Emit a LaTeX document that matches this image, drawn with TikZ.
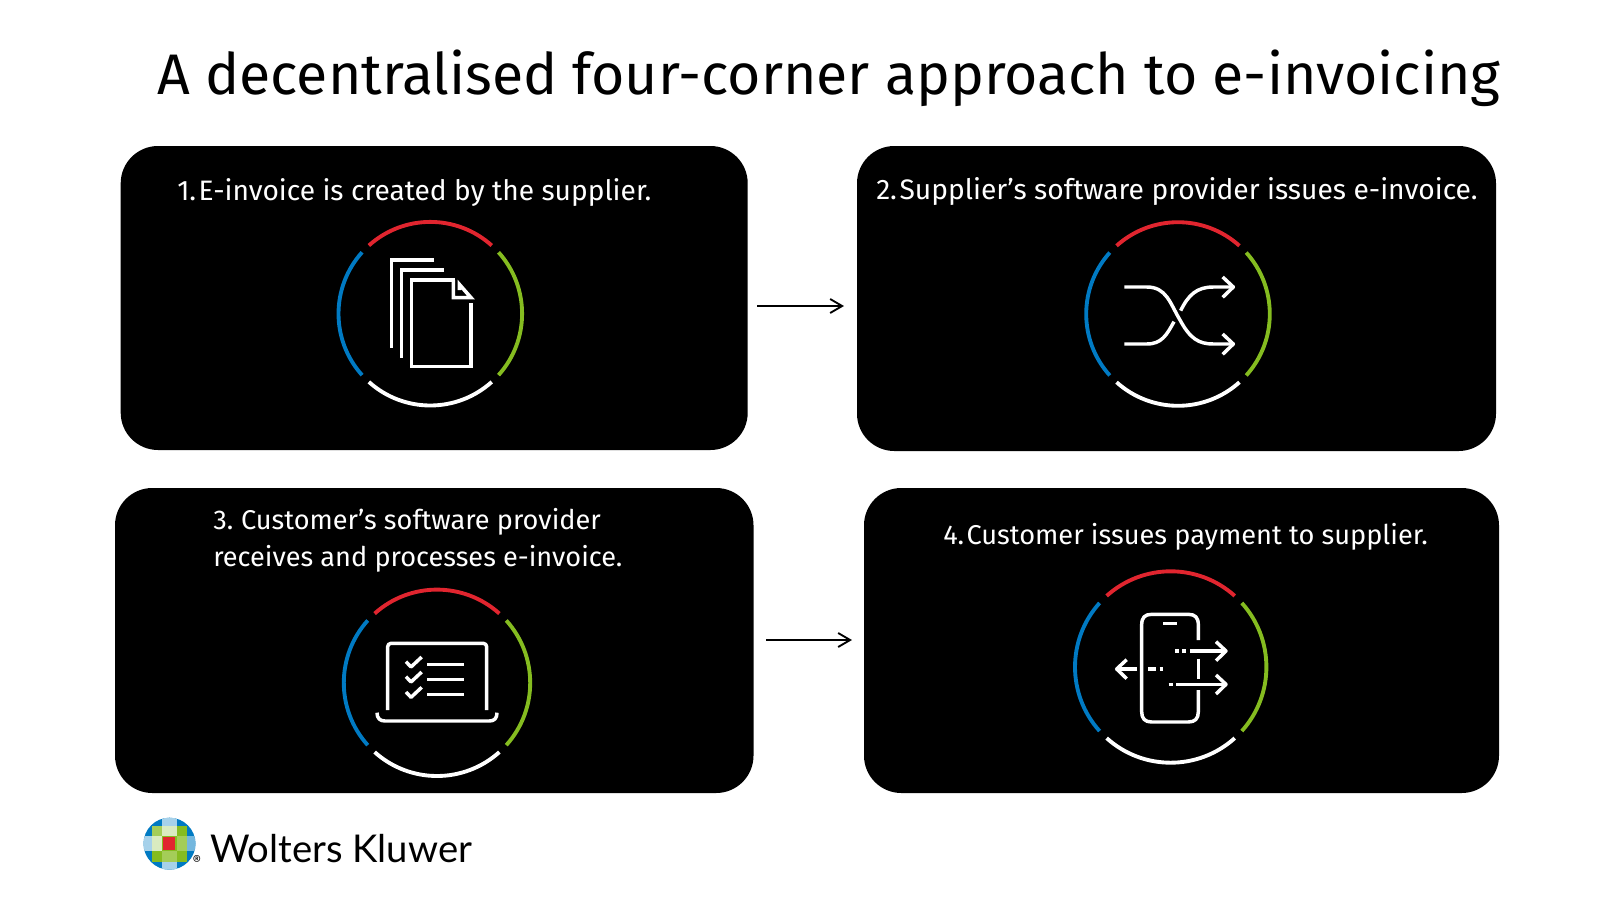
\documentclass[tikz,border=0pt]{standalone}
\usepackage{fontspec}
\setmainfont{Fira Sans}
\newfontfamily\logofont{Lato}
\usetikzlibrary{arrows.meta}
\definecolor{wkred}{HTML}{E1252F}
\definecolor{wkblue}{HTML}{007AC3}
\definecolor{wkgreen}{HTML}{85BC20}
\definecolor{wklight}{HTML}{A6D1EA}
\definecolor{wkpale}{HTML}{DAEBC0}
\definecolor{wkmid}{HTML}{A4CD58}
\tikzset{
  card/.style={fill=black,draw=none,rounded corners=28pt},
  captext/.style={text=white,align=left,anchor=base west,inner sep=0pt},
  ring/.style={line width=2.9pt},
  icon/.style={draw=white,line width=2.7pt,line cap=butt,line join=miter},
  iconr/.style={draw=white,line width=2.6pt,line cap=butt,line join=round},
  flow/.style={-{Straight Barb[length=9pt,width=10.5pt]},line width=1.4pt,black},
}
\newcommand{\ringat}[3]{%
 \begin{scope}[shift={(#1,#2)}]
  \draw[ring,wkred] (-132:#3) arc[start angle=-132,end angle=-48,radius=#3];
  \draw[ring,wkgreen] (-42:#3) arc[start angle=-42,end angle=42,radius=#3];
  \draw[ring,white] (48:#3) arc[start angle=48,end angle=132,radius=#3];
  \draw[ring,wkblue] (138:#3) arc[start angle=138,end angle=222,radius=#3];
 \end{scope}}
\begin{document}
\begin{tikzpicture}[x=0.75pt,y=-0.75pt]
\useasboundingbox (0,0) rectangle (1600,900);
\fill[white] (0,0) rectangle (1600,900);
\node[anchor=base west,inner sep=0pt,font=\fontsize{42.9}{50}\selectfont] (title) at (157,94) {A decentralised four-corner approach to e-invoicing};
\path[card] (120.7,146) rectangle (747.7,450);
\path[card] (857,146) rectangle (1496,451);
\path[card] (115,488) rectangle (753.5,793);
\path[card] (864,488) rectangle (1499,793);
\node[captext,font=\fontsize{21.1}{27}\selectfont] (t1) at (177,200) {1.\kern1.9pt E-invoice is created by the supplier.};
\node[captext,font=\fontsize{21.15}{27}\selectfont] (t2) at (876,199) {2.\kern1.9pt Supplier’s software provider issues e-invoice.};
\node[captext,font=\fontsize{20.35}{27}\selectfont] (t3a) at (213,529) {3.\kern5.9pt Customer’s software provider};
\node[captext,font=\fontsize{20.35}{27}\selectfont] (t3b) at (213,566) {receives and processes e-invoice.};
\node[captext,font=\fontsize{20.4}{27}\selectfont] (t4) at (943,544) {4.\kern1.7pt Customer issues payment to supplier.};
\coordinate (a1s) at (757,306); \coordinate (a1e) at (844,306);
\coordinate (a2s) at (766,640); \coordinate (a2e) at (852,640);
\draw[flow] (a1s) -- (a1e);
\draw[flow] (a2s) -- (a2e);
% icon 1
\ringat{430.3}{313.7}{91.8}
\begin{scope}[shift={(320,210)},x=0.25pt,y=-0.25pt]
\draw[icon] (342,150) -- (215,150) -- (215,413);
\draw[icon] (372,180) -- (245,180) -- (245,443);
\draw[icon] (405,210) -- (275,210) -- (275,469) -- (453,469) -- (453,278);
\draw[icon] (400,210) -- (400,263) -- (453,263) -- (418,223) -- (418,240);
\end{scope}
% icon 2
\ringat{1178}{314}{91.8}
\begin{scope}[shift={(1070,210)},x=0.25pt,y=-0.25pt]
\draw[iconr] (163,231) -- (230,231) .. controls (290,231) and (300,280) .. (330,330) .. controls (360,385) and (385,402) .. (430,402) -- (490,402);
\draw[iconr] (163,402) -- (230,402) .. controls (275,402) and (290,375) .. (312,335);
\draw[iconr] (332,302) .. controls (355,255) and (380,231) .. (430,231) -- (490,231);
\draw[iconr] (458,201) -- (490,231) -- (458,262);
\draw[iconr] (458,372) -- (490,402) -- (458,433);
\end{scope}
% icon 3
\ringat{437}{682.8}{93.2}
\begin{scope}[shift={(330,580)},x=0.25pt,y=-0.25pt]
\draw[iconr] (173,390) -- (173,200) arc[start angle=180,end angle=270,radius=10] -- (460,190) arc[start angle=270,end angle=360,radius=10] -- (470,390);
\draw[iconr] (141,398) .. controls (141,415) and (150,423) .. (165,423) -- (478,423) .. controls (493,423) and (501,415) .. (501,398);
\foreach \y in {253,298,344} {
  \draw[iconr] (228,\y-8) -- (243,\y+8) -- (275,\y-22);
  \draw[iconr] (291,\y) -- (403,\y);
}
\end{scope}
% icon 4
\ringat{1170.7}{667}{95.7}
\begin{scope}[shift={(1060,560)},x=0.25pt,y=-0.25pt]
\draw[iconr] (415,240) -- (415,195) .. controls (415,172) and (405,163) .. (385,163) -- (275,163) .. controls (255,163) and (245,172) .. (245,195) -- (245,455) .. controls (245,476) and (255,486) .. (275,486) -- (385,486) .. controls (405,486) and (415,476) .. (415,455) -- (415,390);
\draw[iconr] (415,296) -- (415,358);
\draw[iconr] (310,190) -- (352,190);
\draw[iconr] (346,273) -- (358,273) (367,273) -- (378,273) (390,273) -- (498,273);
\draw[iconr] (468,245) -- (498,273) -- (468,302);
\draw[iconr] (326,373) -- (338,373) (348,373) -- (498,373);
\draw[iconr] (468,345) -- (498,373) -- (468,402);
\draw[iconr] (231,327) -- (170,327);
\draw[iconr] (200,299) -- (170,327) -- (200,356);
\draw[iconr] (264,327) -- (288,327) (299,327) -- (310,327);
\end{scope}
% logo
\begin{scope}
\clip (169.5,843.7) circle (26);
\fill[wkblue] (143,817) rectangle (196,870);
\fill[wklight] (143,836) rectangle (152,851);
\fill[wklight] (162,817) rectangle (177,826);
\fill[wklight] (162,862) rectangle (177,870);
\fill[wklight!70!wkblue] (187,836) rectangle (196,851);
\fill[wkgreen] (152,826) rectangle (187,862);
\fill[wkmid] (152,826) rectangle (162,836);
\fill[wkpale] (162,826) rectangle (177,836);
\fill[wkpale] (152,836) rectangle (162,851);
\fill[wkmid] (177,836) rectangle (187,851);
\fill[wkmid] (162,851) rectangle (177,862);
\fill[wkred] (163,837) rectangle (175,850);
\end{scope}
\node[anchor=base west,inner sep=0pt,text=black,font=\logofont\fontsize{28.7}{30}\selectfont] (logo) at (210,862) {Wolters Kluwer};
\node[inner sep=0pt,font=\fontsize{10}{10}\selectfont] (reg) at (197,860.7) {®};
\end{tikzpicture}
\end{document}
